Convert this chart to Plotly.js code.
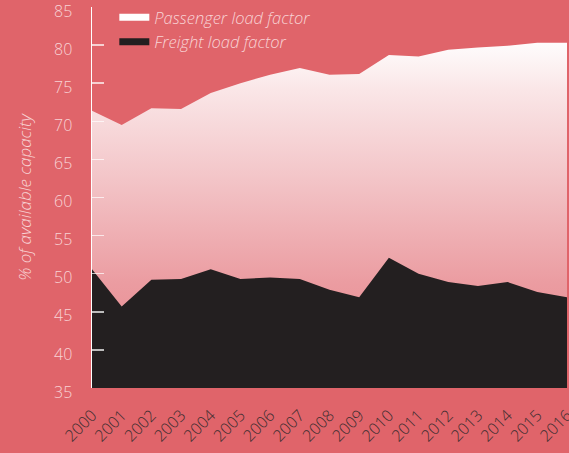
<!DOCTYPE html>
<html>
<head>
<meta charset="utf-8">
<script src="https://cdn.plot.ly/plotly-3.0.1.min.js"></script>
<style>
html,body{margin:0;padding:0;background:#e0646a;}
#chart{width:569px;height:453px;}
</style>
</head>
<body>
<div id="chart"></div>
<script>
const years = [2000,2001,2002,2003,2004,2005,2006,2007,2008,2009,2010,2011,2012,2013,2014,2015,2016];
const yearLabels = years.map(String);
const passengerLoad = [71.4,69.5,71.7,71.6,73.7,75.0,76.1,77.0,76.1,76.2,78.7,78.5,79.4,79.7,79.9,80.3,80.3];
const freightLoad = [50.6,45.7,49.2,49.3,50.6,49.3,49.5,49.3,47.9,46.9,52.1,50.0,48.9,48.4,48.9,47.6,46.9];
const yTicks = [35,40,45,50,55,60,65,70,75,80,85];

const bg = '#e0646a';
const lightText = '#f8d3d5';
const fontFam = '"Open Sans", Lato, sans-serif';

const traces = [
  {
    x: years, y: passengerLoad, type: 'scatter', mode: 'none',
    fill: 'tozeroy', showlegend: false, hoverinfo: 'skip',
    fillgradient: {
      type: 'vertical', start: 35, stop: 81,
      colorscale: [[0,'#e7848a'],[0.3,'#eb9ca1'],[0.6,'#f3c5c8'],[0.85,'#fae6e7'],[1,'#ffffff']]
    }
  },
  {
    x: years, y: freightLoad, type: 'scatter', mode: 'none',
    fill: 'tozeroy', fillcolor: '#231f20', showlegend: false, hoverinfo: 'skip'
  },
  {
    x: [null], y: [null], type: 'scatter', mode: 'lines',
    name: 'Passenger load factor', line: {color: '#ffffff', width: 7}
  },
  {
    x: [null], y: [null], type: 'scatter', mode: 'lines',
    name: 'Freight load factor', line: {color: '#231f20', width: 7}
  }
];

const layout = {
  width: 569, height: 453,
  paper_bgcolor: bg, plot_bgcolor: bg,
  margin: {l: 92, r: 2, t: 7, b: 65, pad: 0, autoexpand: false},
  font: {family: fontFam, color: lightText, weight: 300},
  showlegend: true,
  legend: {
    x: 0.047, y: 1.015, xanchor: 'left', yanchor: 'top', yref: 'container',
    bgcolor: 'rgba(0,0,0,0)', orientation: 'v',
    font: {family: fontFam, size: 16.5, color: lightText, style: 'italic', weight: 300},
    itemwidth: 30, tracegroupgap: 0
  },
  xaxis: {
    range: [2000, 2016], tickmode: 'array', tickvals: years, ticktext: yearLabels,
    tickangle: -45, showgrid: false, zeroline: false, showline: false,
    ticks: '', ticklabelstandoff: 14, ticklabeloverflow: 'allow',
    tickfont: {family: fontFam, size: 16, color: '#3b2d2f', weight: 300}
  },
  yaxis: {
    range: [35, 85], tickmode: 'array', tickvals: yTicks,
    showgrid: false, zeroline: false, showline: true, linecolor: '#ffffff', linewidth: 1.5,
    ticks: 'inside', ticklen: 12, tickwidth: 1.5, tickcolor: 'rgba(255,255,255,0.7)',
    ticklabelstandoff: 15, ticklabelshift: 4, ticklabeloverflow: 'allow',
    tickfont: {family: fontFam, size: 16, color: lightText, weight: 300},
    title: {text: '% of available capacity', standoff: 18,
      font: {family: fontFam, size: 17, color: lightText, style: 'italic', weight: 300}}
  }
};

Plotly.newPlot('chart', traces, layout, {displayModeBar: false, staticPlot: true});
</script>
</body>
</html>
